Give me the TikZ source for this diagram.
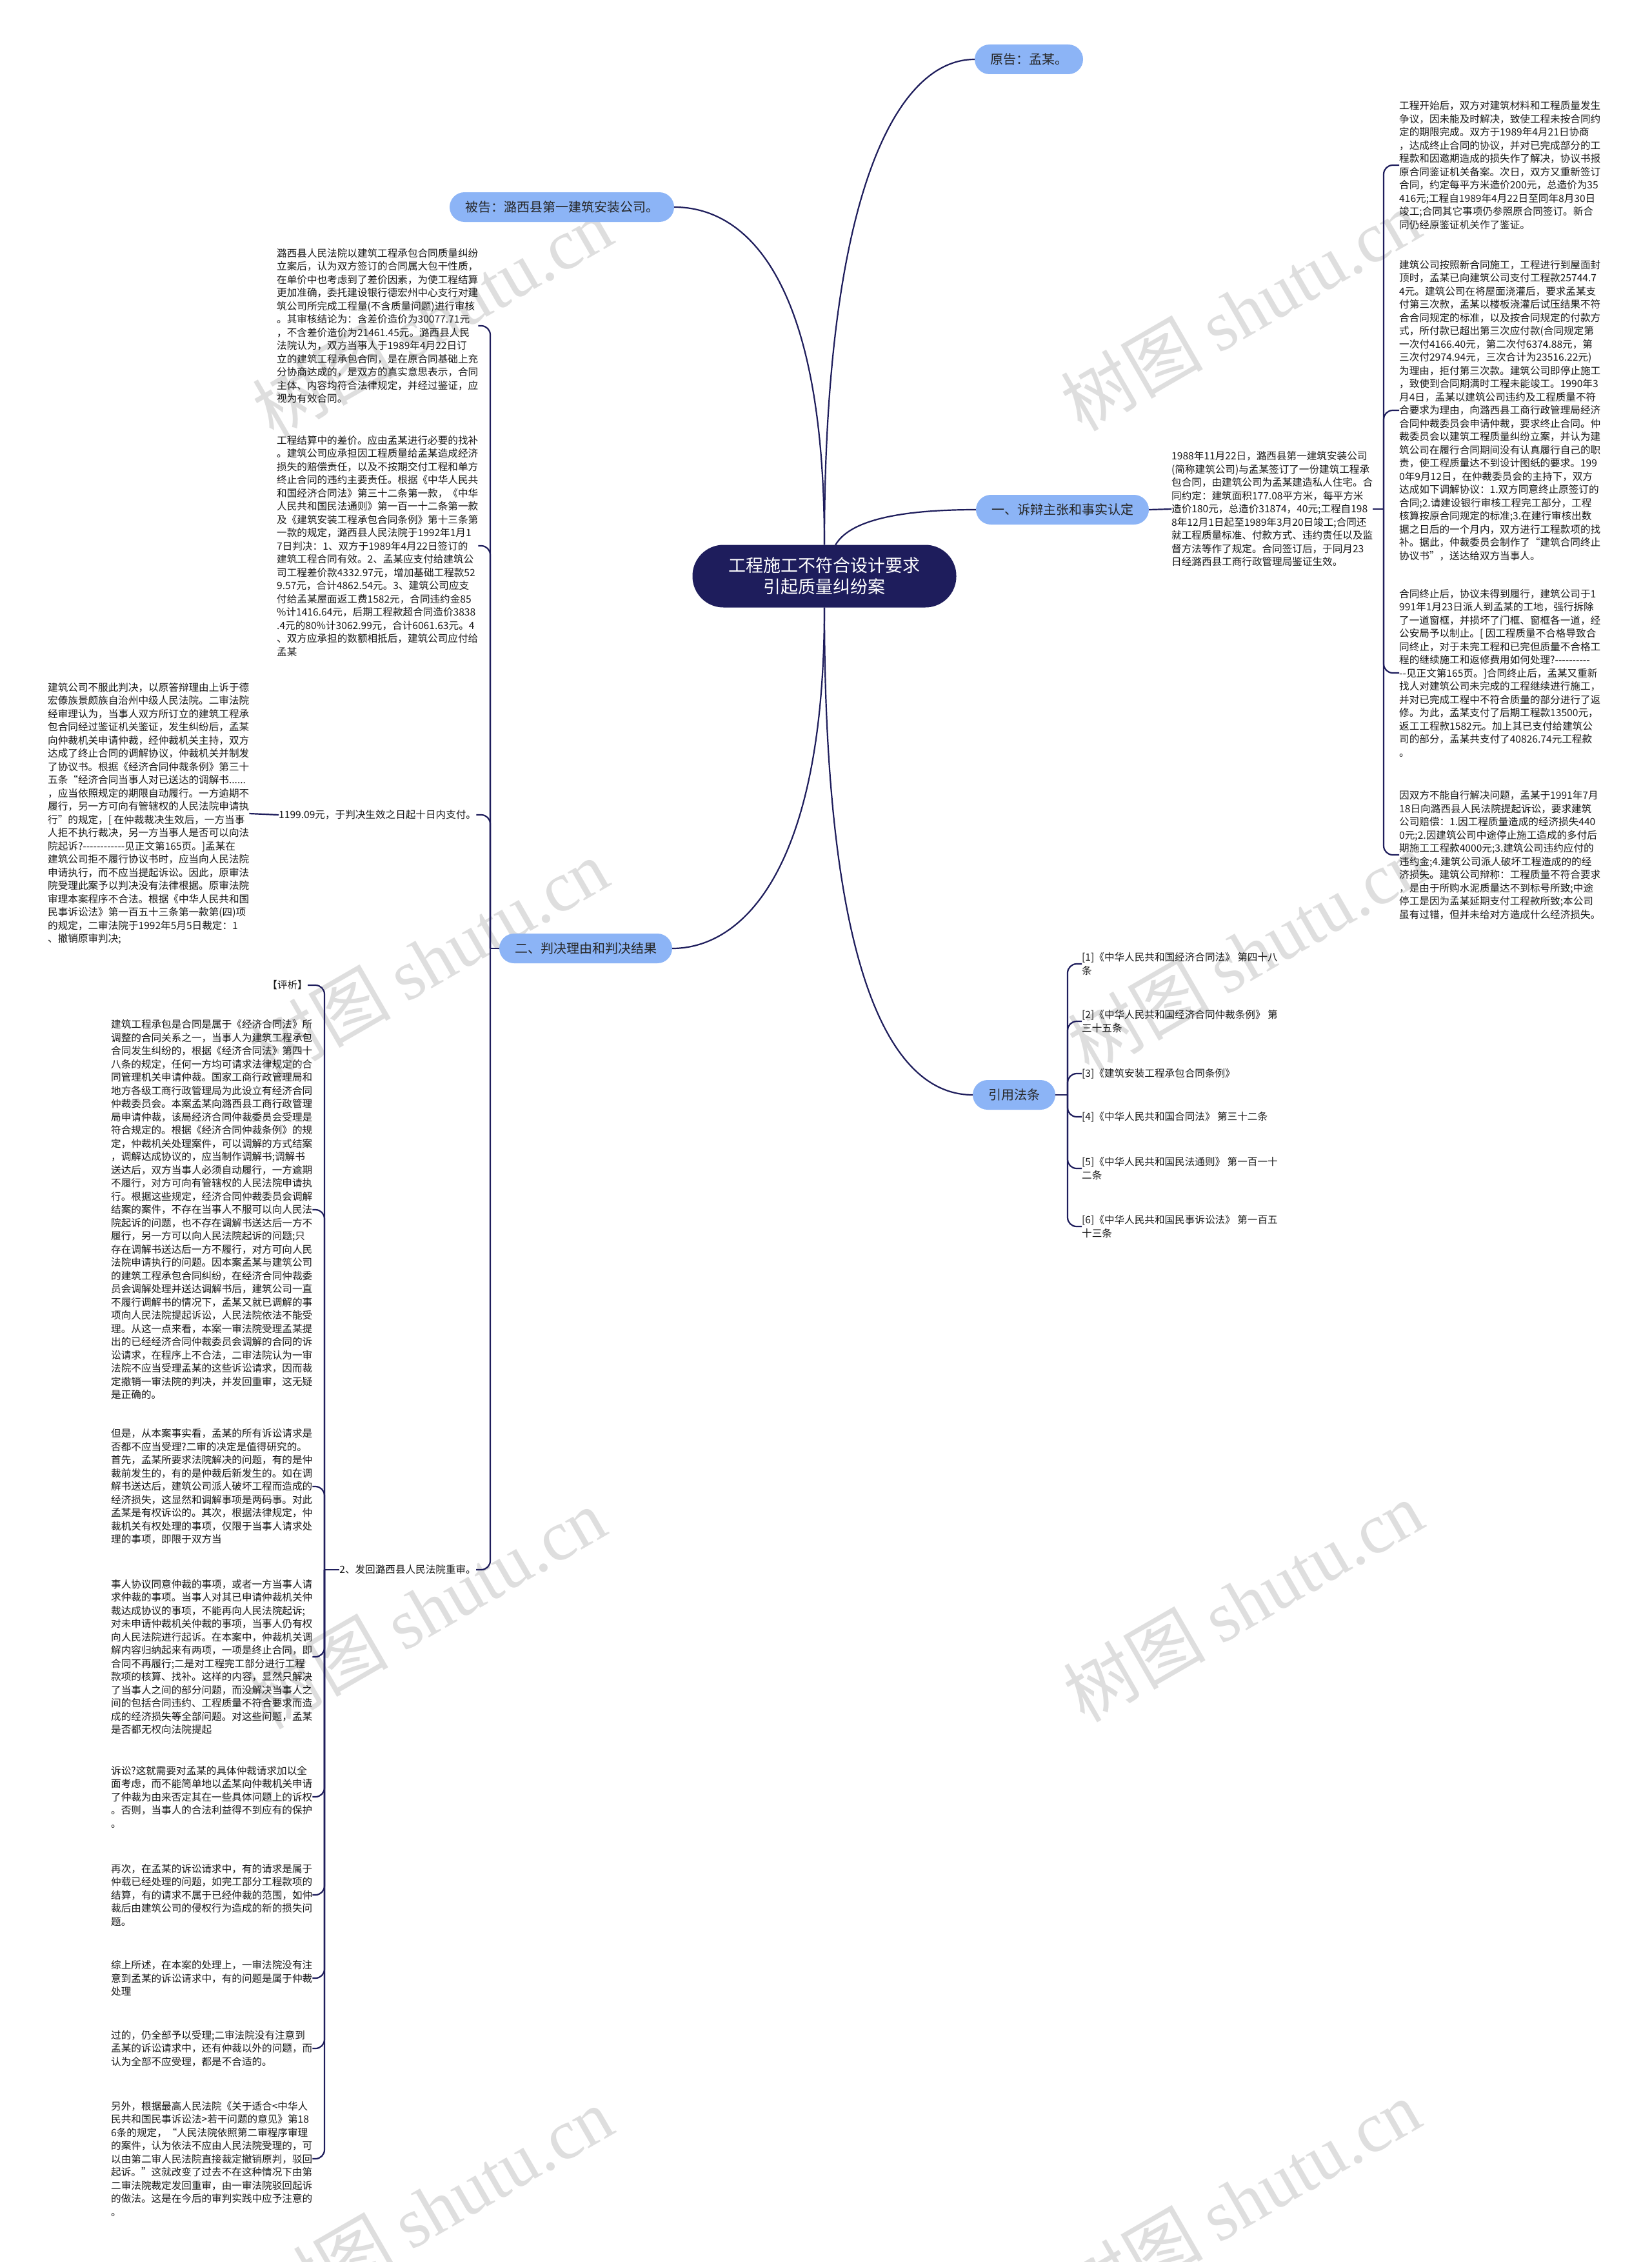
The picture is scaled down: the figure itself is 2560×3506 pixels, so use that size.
\documentclass[tikz,border=0pt]{standalone}
\usepackage{fontspec}
\setmainfont{Noto Sans CJK SC}[Ligatures=TeXOff]
\newfontfamily\serifwm{Liberation Serif}
\definecolor{marine}{RGB}{30,29,92}
\definecolor{bleu}{RGB}{140,180,246}
\definecolor{filig}{RGB}{222,222,222}

\begin{document}
\begin{tikzpicture}[x=1pt,y=-1pt,
  lien/.style={draw=marine,line width=2.2pt,rounded corners=14pt},
  racine/.style={fill=marine,text=white,rounded corners=48pt,minimum width=409pt,minimum height=97pt,align=center,font=\fontsize{27}{33}\selectfont},
  branche/.style={fill=bleu,text=black!85,rounded corners=23pt,minimum height=46pt,inner xsep=24pt,inner ysep=0pt,font=\fontsize{20}{24}\selectfont},
  bloc/.style={inner sep=0pt,align=left,text=black!90,font=\fontsize{15.6}{20.5}\selectfont},
  filigrane/.style={text=filig,rotate=30,font=\fontsize{110}{110}\selectfont}]

\useasboundingbox (0,0) rectangle (2560,3506);
\fill[white] (0,0) rectangle (2560,3506);

% Filigranes
\foreach \x/\y [count=\i] in {670/492,1923/481,664/1487,1934/1476,660/2493,1927/2482,671/3421,1923/3410}
  \node[filigrane] (wm\i) at (\x,\y) {树图 {\serifwm shutu.cn}};

% Racine et branches
\node[racine] (racine) at (1278,893) {工程施工不符合设计要求\\引起质量纠纷案};
\node[branche] (demandeur) at (1595,92) {原告：孟某。};
\node[branche] (defendeur) at (871,321) {被告：潞西县第一建筑安装公司。};
\node[branche] (faits) at (1647,790) {一、诉辩主张和事实认定};
\node[branche] (jugement) at (908,1470) {二、判决理由和判决结果};
\node[branche] (lois) at (1572,1697) {引用法条};

\draw[lien] (racine.north) .. controls (1278,300) and (1390,92) .. (demandeur.west);
\draw[lien] (racine.north) .. controls (1278,420) and (1150,321) .. (defendeur.east);
\draw[lien] (1295,845) .. controls (1320,800) and (1420,790) .. (faits.west);
\draw[lien] (racine.south) .. controls (1278,1350) and (1150,1470) .. (jugement.east);
\draw[lien] (racine.south) .. controls (1278,1560) and (1400,1697) .. (lois.west);

% Faits
\node[bloc,anchor=west] (contrat) at (1816,789) {1988年11月22日，潞西县第一建筑安装公司\\(简称建筑公司)与孟某签订了一份建筑工程承\\包合同，由建筑公司为孟某建造私人住宅。合\\同约定：建筑面积177.08平方米，每平方米\\造价180元，总造价31874，40元;工程自198\\8年12月1日起至1989年3月20日竣工;合同还\\就工程质量标准、付款方式、违约责任以及监\\督方法等作了规定。合同签订后，于同月23\\日经潞西县工商行政管理局鉴证生效。};
\node[bloc,anchor=west] (faitA) at (2169,256) {工程开始后，双方对建筑材料和工程质量发生\\争议，因未能及时解决，致使工程未按合同约\\定的期限完成。双方于1989年4月21日协商\\，达成终止合同的协议，并对已完成部分的工\\程款和因邀期造成的损失作了解决，协议书报\\原合同鉴证机关备案。次日，双方又重新签订\\合同，约定每平方米造价200元，总造价为35\\416元;工程自1989年4月22日至同年8月30日\\竣工;合同其它事项仍参照原合同签订。新合\\同仍经原鉴证机关作了鉴证。};
\node[bloc,anchor=west] (faitB) at (2169,636) {建筑公司按照新合同施工，工程进行到屋面封\\顶时，孟某已向建筑公司支付工程款25744.7\\4元。建筑公司在将屋面浇灌后，要求孟某支\\付第三次款，孟某以楼板浇灌后试压结果不符\\合合同规定的标准，以及按合同规定的付款方\\式，所付款已超出第三次应付款(合同规定第\\一次付4166.40元，第二次付6374.88元，第\\三次付2974.94元，三次合计为23516.22元)\\为理由，拒付第三次款。建筑公司即停止施工\\，致使到合同期满时工程未能竣工。1990年3\\月4日，孟某以建筑公司违约及工程质量不符\\合要求为理由，向潞西县工商行政管理局经济\\合同仲裁委员会申请仲裁，要求终止合同。仲\\裁委员会以建筑工程质量纠纷立案，并认为建\\筑公司在履行合同期间没有认真履行自己的职\\责，使工程质量达不到设计图纸的要求。199\\0年9月12日，在仲裁委员会的主持下，双方\\达成如下调解协议：1.双方同意终止原签订的\\合同;2.请建设银行审核工程完工部分，工程\\核算按原合同规定的标准;3.在建行审核出数\\据之日后的一个月内，双方进行工程款项的找\\补。据此，仲裁委员会制作了“建筑合同终止\\协议书”，送达给双方当事人。};
\node[bloc,anchor=west] (faitC) at (2169,1043) {合同终止后，协议未得到履行，建筑公司于1\\991年1月23日派人到孟某的工地，强行拆除\\了一道窗框，并损坏了门框、窗框各一道，经\\公安局予以制止。[ 因工程质量不合格导致合\\同终止，对于未完工程和已完但质量不合格工\\程的继续施工和返修费用如何处理?----------\\--见正文第165页。]合同终止后，孟某又重新\\找人对建筑公司未完成的工程继续进行施工，\\并对已完成工程中不符合质量的部分进行了返\\修。为此，孟某支付了后期工程款13500元，\\返工工程款1582元。加上其已支付给建筑公\\司的部分，孟某共支付了40826.74元工程款\\。};
\node[bloc,anchor=west] (faitD) at (2169,1325) {因双方不能自行解决问题，孟某于1991年7月\\18日向潞西县人民法院提起诉讼，要求建筑\\公司赔偿：1.因工程质量造成的经济损失440\\0元;2.因建筑公司中途停止施工造成的多付后\\期施工工程款4000元;3.建筑公司违约应付的\\违约金;4.建筑公司派人破坏工程造成的的经\\济损失。建筑公司辩称：工程质量不符合要求\\，是由于所购水泥质量达不到标号所致;中途\\停工是因为孟某延期支付工程款所致;本公司\\虽有过错，但并未给对方造成什么经济损失。};

\coordinate (b1) at (2145,789);
\draw[lien] (faits.east) -- (contrat.west);
\draw[lien] (contrat.east) -- (b1);
\foreach \n in {faitA,faitB,faitC,faitD}
  \draw[lien] (b1) |- (\n.west);

% Jugement
\node[bloc,anchor=west] (premier) at (429,505) {潞西县人民法院以建筑工程承包合同质量纠纷\\立案后，认为双方签订的合同属大包干性质，\\在单价中也考虑到了差价因素，为使工程结算\\更加准确，委托建设银行德宏州中心支行对建\\筑公司所完成工程量(不含质量问题)进行审核\\。其审核结论为：含差价造价为30077.71元\\，不含差价造价为21461.45元。潞西县人民\\法院认为，双方当事人于1989年4月22日订\\立的建筑工程承包合同，是在原合同基础上充\\分协商达成的，是双方的真实意思表示，合同\\主体、内容均符合法律规定，并经过鉴证，应\\视为有效合同。};
\node[bloc,anchor=west] (second) at (429,846) {工程结算中的差价。应由孟某进行必要的找补\\。建筑公司应承担因工程质量给孟某造成经济\\损失的赔偿责任，以及不按期交付工程和单方\\终止合同的违约主要责任。根据《中华人民共\\和国经济合同法》第三十二条第一款，《中华\\人民共和国民法通则》第一百一十二条第一款\\及《建筑安装工程承包合同条例》第十三条第\\一款的规定，潞西县人民法院于1992年1月1\\7日判决：1、双方于1989年4月22日签订的\\建筑工程合同有效。2、孟某应支付给建筑公\\司工程差价款4332.97元，增加基础工程款52\\9.57元，合计4862.54元。3、建筑公司应支\\付给孟某屋面返工费1582元，合同违约金85\\\%计1416.64元，后期工程款超合同造价3838\\.4元的80\%计3062.99元，合计6061.63元。4\\、双方应承担的数额相抵后，建筑公司应付给\\孟某};
\node[bloc,anchor=west] (paiement) at (432,1263) {1199.09元，于判决生效之日起十日内支付。};
\node[bloc,anchor=east] (renvoi) at (738,2433) {2、发回潞西县人民法院重审。};
\node[bloc,anchor=west] (appel) at (74,1261) {建筑公司不服此判决，以原答辩理由上诉于德\\宏傣族景颇族自治州中级人民法院。二审法院\\经审理认为，当事人双方所订立的建筑工程承\\包合同经过鉴证机关鉴证，发生纠纷后，孟某\\向仲裁机关申请仲裁，经仲裁机关主持，双方\\达成了终止合同的调解协议，仲裁机关并制发\\了协议书。根据《经济合同仲裁条例》第三十\\五条“经济合同当事人对已送达的调解书......\\，应当依照规定的期限自动履行。一方逾期不\\履行，另一方可向有管辖权的人民法院申请执\\行”的规定，[ 在仲裁裁决生效后，一方当事\\人拒不执行裁决，另一方当事人是否可以向法\\院起诉?------------见正文第165页。]孟某在\\建筑公司拒不履行协议书时，应当向人民法院\\申请执行，而不应当提起诉讼。因此，原审法\\院受理此案予以判决没有法律根据。原审法院\\审理本案程序不合法。根据《中华人民共和国\\民事诉讼法》第一百五十三条第一款第(四)项\\的规定，二审法院于1992年5月5日裁定：1\\、撤销原审判决;};

\coordinate (b2) at (760,1470);
\draw[lien] (jugement.west) -- (b2);
\foreach \n in {premier,second,paiement,renvoi}
  \draw[lien] (b2) |- (\n.east);
\draw[lien] (paiement.west) -- (appel.east);

% Commentaire
\node[bloc,anchor=east] (p0) at (477,1527) {【评析】};
\node[bloc,anchor=west] (p1) at (172,1875) {建筑工程承包是合同是属于《经济合同法》所\\调整的合同关系之一，当事人为建筑工程承包\\合同发生纠纷的，根据《经济合同法》第四十\\八条的规定，任何一方均可请求法律规定的合\\同管理机关申请仲裁。国家工商行政管理局和\\地方各级工商行政管理局为此设立有经济合同\\仲裁委员会。本案孟某向潞西县工商行政管理\\局申请仲裁，该局经济合同仲裁委员会受理是\\符合规定的。根据《经济合同仲裁条例》的规\\定，仲裁机关处理案件，可以调解的方式结案\\，调解达成协议的，应当制作调解书;调解书\\送达后，双方当事人必须自动履行，一方逾期\\不履行，对方可向有管辖权的人民法院申请执\\行。根据这些规定，经济合同仲裁委员会调解\\结案的案件，不存在当事人不服可以向人民法\\院起诉的问题，也不存在调解书送达后一方不\\履行，另一方可以向人民法院起诉的问题;只\\存在调解书送达后一方不履行，对方可向人民\\法院申请执行的问题。因本案孟某与建筑公司\\的建筑工程承包合同纠纷，在经济合同仲裁委\\员会调解处理并送达调解书后，建筑公司一直\\不履行调解书的情况下，孟某又就已调解的事\\项向人民法院提起诉讼，人民法院依法不能受\\理。从这一点来看，本案一审法院受理孟某提\\出的已经经济合同仲裁委员会调解的合同的诉\\讼请求，在程序上不合法，二审法院认为一审\\法院不应当受理孟某的这些诉讼请求，因而裁\\定撤销一审法院的判决，并发回重审，这无疑\\是正确的。};
\node[bloc,anchor=west] (p2) at (172,2304) {但是，从本案事实看，孟某的所有诉讼请求是\\否都不应当受理?二审的决定是值得研究的。\\首先，孟某所要求法院解决的问题，有的是仲\\裁前发生的，有的是仲裁后新发生的。如在调\\解书送达后，建筑公司派人破坏工程而造成的\\经济损失，这显然和调解事项是两码事。对此\\孟某是有权诉讼的。其次，根据法律规定，仲\\裁机关有权处理的事项，仅限于当事人请求处\\理的事项，即限于双方当};
\node[bloc,anchor=west] (p3) at (172,2568) {事人协议同意仲裁的事项，或者一方当事人请\\求仲裁的事项。当事人对其已申请仲裁机关仲\\裁达成协议的事项，不能再向人民法院起诉;\\对未申请仲裁机关仲裁的事项，当事人仍有权\\向人民法院进行起诉。在本案中，仲裁机关调\\解内容归纳起来有两项，一项是终止合同，即\\合同不再履行;二是对工程完工部分进行工程\\款项的核算、找补。这样的内容，显然只解决\\了当事人之间的部分问题，而没解决当事人之\\间的包括合同违约、工程质量不符合要求而造\\成的经济损失等全部问题。对这些问题，孟某\\是否都无权向法院提起};
\node[bloc,anchor=west] (p4) at (172,2785) {诉讼?这就需要对孟某的具体仲裁请求加以全\\面考虑，而不能简单地以孟某向仲裁机关申请\\了仲裁为由来否定其在一些具体问题上的诉权\\。否则，当事人的合法利益得不到应有的保护\\。};
\node[bloc,anchor=west] (p5) at (172,2937) {再次，在孟某的诉讼请求中，有的请求是属于\\仲载已经处理的问题，如完工部分工程款项的\\结算，有的请求不属于已经仲裁的范围，如仲\\裁后由建筑公司的侵权行为造成的新的损失问\\题。};
\node[bloc,anchor=west] (p6) at (172,3066) {综上所述，在本案的处理上，一审法院没有注\\意到孟某的诉讼请求中，有的问题是属于仲裁\\处理};
\node[bloc,anchor=west] (p7) at (172,3175) {过的，仍全部予以受理;二审法院没有注意到\\孟某的诉讼请求中，还有仲裁以外的问题，而\\认为全部不应受理，都是不合适的。};
\node[bloc,anchor=west] (p8) at (172,3346) {另外，根据最高人民法院《关于适合<中华人\\民共和国民事诉讼法>若干问题的意见》第18\\6条的规定，“人民法院依照第二审程序审理\\的案件，认为依法不应由人民法院受理的，可\\以由第二审人民法院直接裁定撤销原判，驳回\\起诉。”这就改变了过去不在这种情况下由第\\二审法院裁定发回重审，由一审法院驳回起诉\\的做法。这是在今后的审判实践中应予注意的\\。};

\coordinate (b3) at (503,2433);
\draw[lien] (renvoi.west) -- (b3);
\foreach \n in {p0,p1,p2,p3,p4,p5,p6,p7,p8}
  \draw[lien] (b3) |- (\n.east);

% Lois
\node[bloc,anchor=west] (l1) at (1677,1494) {[1]《中华人民共和国经济合同法》 第四十八\\条};
\node[bloc,anchor=west] (l2) at (1677,1583) {[2]《中华人民共和国经济合同仲裁条例》 第\\三十五条};
\node[bloc,anchor=west] (l3) at (1677,1664) {[3]《建筑安装工程承包合同条例》};
\node[bloc,anchor=west] (l4) at (1677,1731) {[4]《中华人民共和国合同法》 第三十二条};
\node[bloc,anchor=west] (l5) at (1677,1811) {[5]《中华人民共和国民法通则》 第一百一十\\二条};
\node[bloc,anchor=west] (l6) at (1677,1901) {[6]《中华人民共和国民事诉讼法》 第一百五\\十三条};

\coordinate (b4) at (1655,1697);
\draw[lien] (lois.east) -- (b4);
\foreach \n in {l1,l2,l3,l4,l5,l6}
  \draw[lien] (b4) |- (\n.west);

\end{tikzpicture}
\end{document}
